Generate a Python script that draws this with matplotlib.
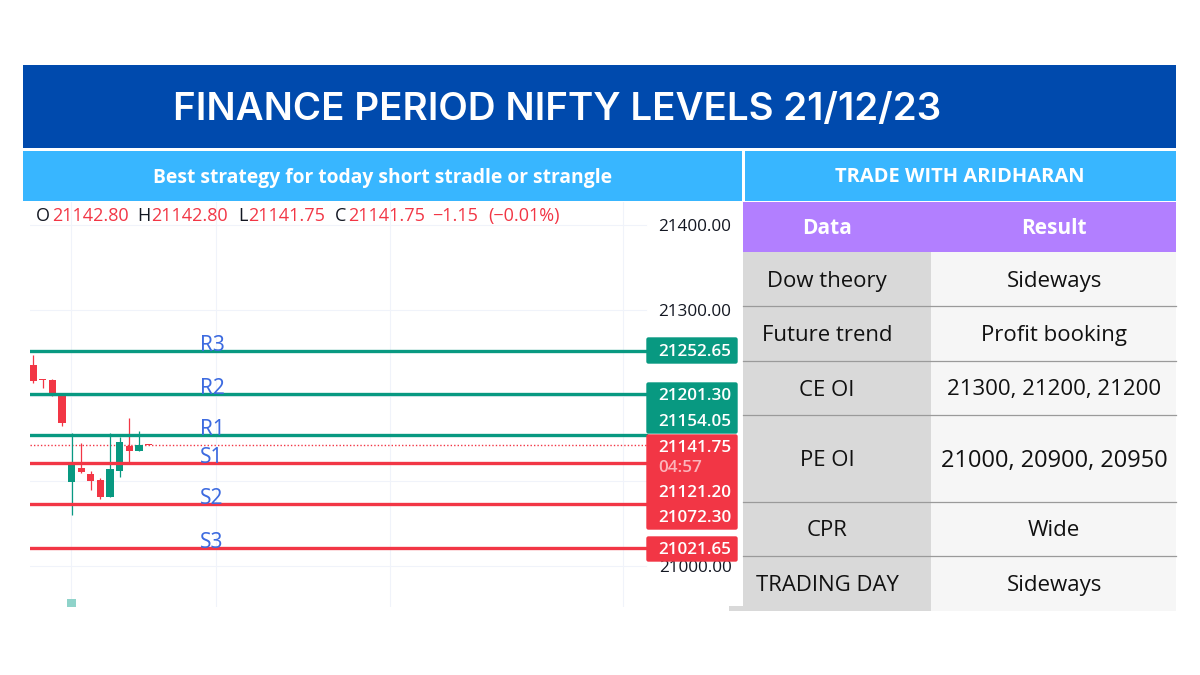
import matplotlib
matplotlib.use('Agg')
import matplotlib.pyplot as plt
from matplotlib.patches import Rectangle, FancyBboxPatch

#%% data
title = 'FINANCE PERIOD NIFTY LEVELS 21/12/23'
subtitle_left = 'Best strategy for today short stradle or strangle'
subtitle_right = 'TRADE WITH ARIDHARAN'

opens = [21235.5, 21219.5, 21218.3, 21200.3, 21098.7, 21115.5, 21108.5, 21100.7, 21081.1, 21111.2, 21140.9, 21134.7, 21142.8]
highs = [21247.6, 21219.5, 21219.0, 21200.5, 21156.6, 21144.0, 21111.6, 21103.0, 21155.8, 21151.9, 21173.4, 21158.5, 21142.8]
lows = [21215.2, 21208.5, 21199.5, 21164.4, 21060.0, 21108.9, 21089.3, 21079.2, 21081.0, 21104.2, 21119.8, 21134.7, 21141.75]
closes = [21217.5, 21218.7, 21199.9, 21168.3, 21119.4, 21110.0, 21099.9, 21081.1, 21114.3, 21145.6, 21134.7, 21141.7, 21141.75]
volume_idx = 4
volume_top = 20961.5

last_price = 21141.75
level_names = ['R3', 'R2', 'R1', 'S1', 'S2', 'S3']
level_values = [21252.65, 21201.30, 21154.05, 21121.20, 21072.30, 21021.65]
y_ticks = [21400, 21300, 21000]
y_grid = [21400, 21300, 21200, 21100, 21000]
x_grid = [3.9, 19.0, 37.1, 61.4]

col_headers = ['Data', 'Result']
row_names = ['Dow theory', 'Future trend', 'CE OI', 'PE OI', 'CPR', 'TRADING DAY']
row_results = ['Sideways', 'Profit booking', '21300, 21200, 21200', '21000, 20900, 20950', 'Wide', 'Sideways']

green = '#089981'
red = '#F23645'
plt.rcParams['font.family'] = ['Noto Sans', 'DejaVu Sans']

fig = plt.figure(figsize=(12, 6.75), dpi=100, facecolor='white')

#%% overlay in pixels for the header bands
bg = fig.add_axes([0, 0, 1, 1], zorder=0)
bg.set_xlim(0, 1200)
bg.set_ylim(675, 0)
bg.axis('off')
bg.add_patch(Rectangle((23, 65), 1153, 83, fc='#004AAD', ec='none'))
bg.add_patch(Rectangle((23, 151), 719, 50, fc='#38B6FF', ec='none'))
bg.add_patch(Rectangle((745, 151), 431, 50, fc='#38B6FF', ec='none'))
bg.text(173, 110, title, color='white', fontsize=27.7, fontweight='semibold', va='center', ha='left', family='Inter')
bg.text(383, 178, subtitle_left, color='white', fontsize=13.9, fontweight='bold', va='center', ha='center', family='Open Sans')
bg.text(960, 177.5, subtitle_right, color='white', fontsize=14.5, fontweight='bold', va='center', ha='center', family='Open Sans')

#%% candles on the price scale
ax = fig.add_axes([30 / 1200, (675 - 607) / 675, 713 / 1200, 405 / 675], zorder=1)
ax.patch.set_alpha(0)
ax.set_xlim(-0.34, 73.9)
ax.set_ylim(20952, 21427)
for s in ax.spines.values():
    s.set_visible(False)
ax.set_xticks([])
ax.set_yticks([])
tag_frac = (646 - 30) / 713
for g in y_grid:
    ax.axhline(g, xmax=tag_frac, color='#f0f3fa', lw=0.8, zorder=1)
for g in x_grid:
    ax.axvline(g, color='#f0f3fa', lw=0.8, zorder=1)

for i in range(len(opens)):
    c = green if closes[i] > opens[i] else red
    ax.vlines(i, lows[i], highs[i], color=c, lw=0.9, zorder=3)
    ax.bar(i, abs(closes[i] - opens[i]), bottom=min(opens[i], closes[i]), width=0.75, color=c, zorder=3)
ax.bar(volume_idx, volume_top - 20952, bottom=20952, width=1.0, color='#8fd3ca', zorder=2)

ax.axhline(last_price, xmax=tag_frac, color=red, lw=1.0, ls=(0, (1, 1.5)), zorder=2)
for name, v in zip(level_names, level_values):
    c = green if name[0] == 'R' else red
    ax.axhline(v, xmax=tag_frac, color=c, lw=2.4, zorder=4)
    ax.annotate(name, (17.4, v), xytext=(0, 4), textcoords='offset points', color='#3d6be0',
                fontsize=15, va='center', ha='left', zorder=5)

#%% overlay in pixels for legend row, tags and table
top = fig.add_axes([0, 0, 1, 1], zorder=2)
top.set_xlim(0, 1200)
top.set_ylim(675, 0)
top.axis('off')
top.patch.set_alpha(0)

ohlc = [(36, 'O', '#131722'), (52, '21142.80', red), (137, 'H', '#131722'), (151, '21142.80', red),
        (238, 'L', '#131722'), (248, '21141.75', red), (335, 'C', '#131722'), (348, '21141.75', red),
        (432, '\u22121.15', red), (488, '(\u22120.01%)', red)]
for x, t, c in ohlc:
    top.text(x, 216, t, color=c, fontsize=13, va='center', ha='left', family='Open Sans')
for v in y_ticks:
    y = ax.transData.transform((0, v))[1]
    top.text(695, 677 - y, f'{v:.2f}', color='#131722', fontsize=12.3, va='center', ha='center', family='Open Sans')

for y0, h, c in [(337, 27, green), (382, 52, green), (434, 96, red), (536, 26, red)]:
    top.add_patch(FancyBboxPatch((647, y0 + 1), 90, h - 2, boxstyle='round,pad=0,rounding_size=1.5', fc=c, ec=c, lw=1, zorder=3))
tag_rows = [(352, '21252.65', 'white'), (396, '21201.30', 'white'), (422, '21154.05', 'white'),
            (448, '21141.75', 'white'), (468, '04:57', '#fbb4bb'), (493, '21121.20', 'white'),
            (518, '21072.30', 'white'), (550, '21021.65', 'white')]
for y, t, c in tag_rows:
    top.text(658, y, t, color=c, fontsize=12.3, va='center', ha='left', family='Open Sans', fontweight='semibold', zorder=4)

# table
top.add_patch(Rectangle((743, 202), 433, 50, fc='#B27FFF', ec='none'))
top.text(827, 229, col_headers[0], color='white', fontsize=15, fontweight='bold', va='center', ha='center', family='Open Sans')
top.text(1054, 229, col_headers[1], color='white', fontsize=15, fontweight='bold', va='center', ha='center', family='Open Sans')
row_edges = [252, 306, 361, 415, 502, 556, 611]
top.add_patch(Rectangle((743, 252), 188, 359, fc='#D9D9D9', ec='none'))
top.add_patch(Rectangle((729, 606), 14, 5, fc='#D9D9D9', ec='none'))
top.add_patch(Rectangle((931, 252), 245, 359, fc='#F6F6F6', ec='none'))
for e in row_edges[1:-1]:
    top.plot([743, 1176], [e, e], color='#9a9a9a', lw=0.9)
for i in range(len(row_names)):
    yc = (row_edges[i] + row_edges[i + 1]) / 2 + 2
    top.text(827, yc, row_names[i], color='#111111', fontsize=15.9, va='center', ha='center', family='Open Sans')
    # PE OI row is set a bit bigger in the original
    fs = 17 if row_names[i] == 'PE OI' else 16
    top.text(1054, yc, row_results[i], color='#111111', fontsize=fs, va='center', ha='center', family='Open Sans')

fig.savefig('out.png', dpi=100)
